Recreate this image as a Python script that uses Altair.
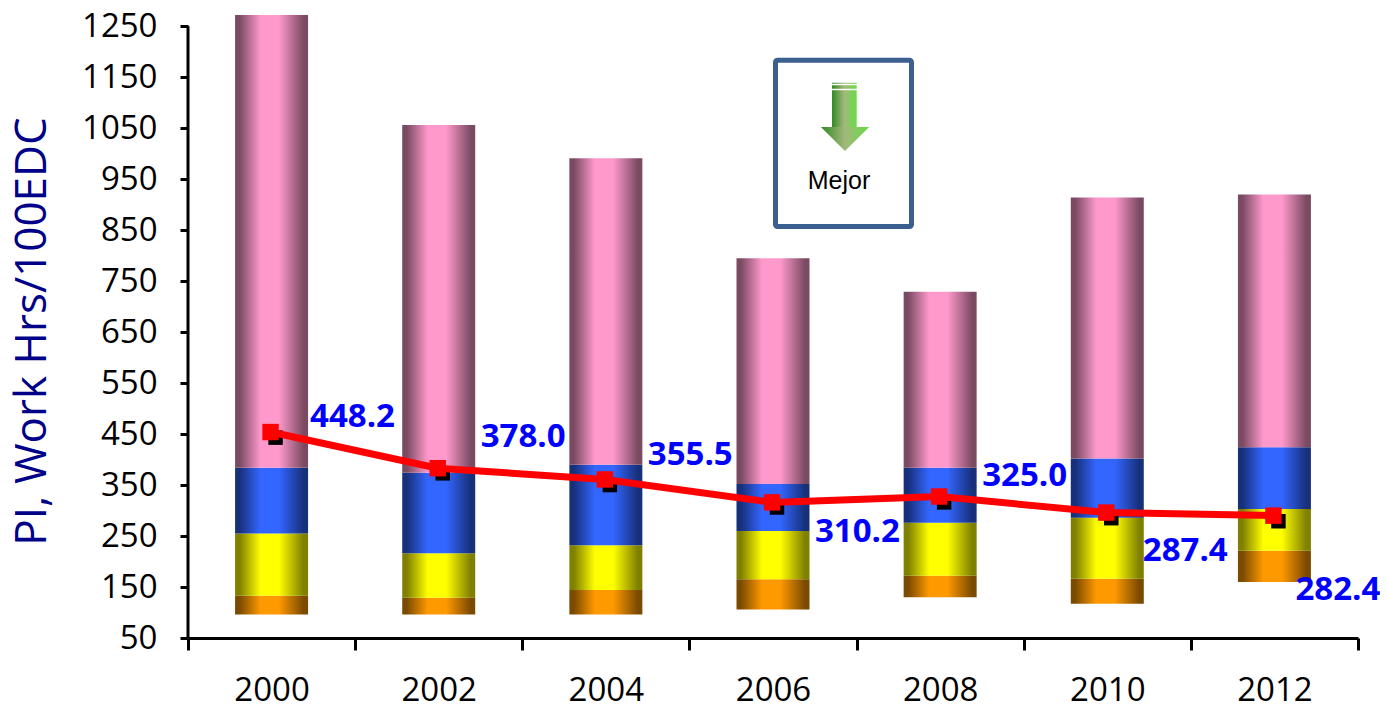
import altair as alt
import pandas as pd

years = ["2000", "2002", "2004", "2006", "2008", "2010", "2012"]
base = [96, 96, 96, 106, 130, 117, 160]
orange_top = [133, 129, 144, 165, 172, 166, 221]
yellow_top = [255, 216, 232, 260, 276, 286, 303]
blue_top = [384, 374, 390, 352, 384, 402, 424]
pink_top = [1272, 1056, 991, 795, 729, 914, 920]
red_line = [454, 383, 361, 316, 327.5, 296, 290]
black_pts = [443, 373, 350, 306, 316, 285, 279]
label_text = ["448.2", "378.0", "355.5", "310.2", "325.0", "287.4", "282.4"]
label_at = [484, 445, 408, 257, 367, 220, 145]
y_ticks = list(range(50, 1251, 100))

df = pd.DataFrame({
    "year": years, "base": base, "orange": orange_top, "yellow": yellow_top,
    "blue": blue_top, "pink": pink_top, "red": red_line, "black": black_pts,
    "label": label_text, "label_at": label_at,
})

FONT = "Open Sans"
x_enc = alt.X("year:N", scale=alt.Scale(domain=years, paddingInner=0, paddingOuter=0),
              axis=alt.Axis(title=None, tickBand="extent", labelAngle=0, labelFont=FONT,
                            labelFontSize=33, labelColor="#000", labelPadding=24, tickSize=12,
                            tickWidth=3, tickColor="#000", domainColor="#000", domainWidth=3,
                            grid=False))
y_scale = alt.Scale(domain=[50, 1272], nice=False, zero=False)
y_axis = alt.Axis(title="PI, Work Hrs/100EDC", values=y_ticks, format="d", grid=False, labelFont=FONT,
                  labelFontSize=33, labelColor="#000", labelPadding=23, tickSize=8,
                  tickWidth=3, tickColor="#000", domain=False,
                  titleFont=FONT, titleFontSize=44, titleFontWeight="normal", titleColor="#000088",
                  titleX=-156, titleY=316, titleBaseline="middle", titleAngle=270)


def grad(edge, mid):
    return alt.LinearGradient(gradient="linear", x1=0, x2=1, y1=0, y2=0, stops=[
        alt.GradientStop(offset=0, color=edge), alt.GradientStop(offset=0.06, color=edge),
        alt.GradientStop(offset=0.35, color=mid), alt.GradientStop(offset=0.6, color=mid),
        alt.GradientStop(offset=0.94, color=edge), alt.GradientStop(offset=1, color=edge)])


def segment(lo, hi, edge, mid):
    return alt.Chart(df).mark_bar(size=73, color=grad(edge, mid)).encode(
        x=x_enc,
        y=alt.Y(f"{lo}:Q", scale=y_scale, axis=y_axis),
        y2=alt.Y2(f"{hi}:Q"),
    )


bars = [
    segment("base", "orange", "#7a4a00", "#ff9900"),
    segment("orange", "yellow", "#7f7f00", "#ffff00"),
    segment("yellow", "blue", "#17307a", "#3366ff"),
    segment("blue", "pink", "#7a4a62", "#ff99cc"),
]

yq = lambda f: alt.Y(f"{f}:Q", scale=y_scale, axis=y_axis)
black = alt.Chart(df).mark_point(shape="square", filled=True, size=210, color="#000", opacity=1,
                                 xOffset=4).encode(x=x_enc, y=yq("black"))
line = alt.Chart(df).mark_line(color="#ff0000", strokeWidth=7, xOffset=-1).encode(x=x_enc, y=yq("red"))
red = alt.Chart(df).mark_point(shape="square", filled=True, size=270, color="#ff0000", opacity=1,
                               xOffset=-1).encode(x=x_enc, y=yq("red"))


def labels(sel, dx):
    return alt.Chart(df[df.label.isin(sel)]).mark_text(
        font=FONT, fontWeight="bold", fontSize=33, color="#0000ff", align="left",
        baseline="middle", dx=dx).encode(x=x_enc, y=yq("label_at"), text="label:N")


texts = [labels(label_text[:1], 38.5), labels(label_text[1:5], 42),
         labels(label_text[5:6], 35.5), labels(label_text[6:], 21)]

anno = pd.DataFrame({"t": ["Mejor"]})
y_line = alt.Chart(anno).mark_rule(color="#000", strokeWidth=3).encode(
    x=alt.value(0),
    y=alt.Y(datum=y_ticks[0], scale=y_scale, axis=y_axis),
    y2=alt.Y2(datum=y_ticks[-1]))
box = alt.Chart(anno).mark_rect(fill="#ffffff", stroke="#3b5f8f", strokeWidth=5, cornerRadius=2).encode(
    x=alt.value(587.5), x2=alt.value(723.5), y=alt.value(45.3), y2=alt.value(211.5))
arrow_grad = alt.LinearGradient(gradient="linear", x1=0, x2=1, y1=0, y2=0, stops=[
    alt.GradientStop(offset=0, color="#2f8a22"), alt.GradientStop(offset=0.5, color="#a3b87c"),
    alt.GradientStop(offset=1, color="#66dd44")])
shaft = alt.Chart(anno).mark_rect(fill=arrow_grad).encode(
    x=alt.value(644), x2=alt.value(668.7), y=alt.value(67.7), y2=alt.value(112))
head = alt.Chart(anno).mark_point(
    shape="M-1,-.5 L1,-.5 L0,.5 Z", filled=True, fill=arrow_grad, opacity=1, size=2330,
    strokeWidth=0).encode(x=alt.value(657), y=alt.value(124))
stripe1 = alt.Chart(anno).mark_rule(color="#fff", strokeWidth=1.5).encode(
    x=alt.value(643), x2=alt.value(670), y=alt.value(69.5))
stripe2 = alt.Chart(anno).mark_rule(color="#fff", strokeWidth=1.5).encode(
    x=alt.value(643), x2=alt.value(670), y=alt.value(74.5))
mejor = alt.Chart(anno).mark_text(font="Liberation Sans", fontSize=25, color="#000",
                                  align="center", baseline="middle").encode(
    x=alt.value(651), y=alt.value(165.5), text="t:N")

chart = alt.layer(*bars, y_line, black, line, red, *texts, box, shaft, head, stripe1, stripe2, mejor).resolve_scale(
    x="shared", y="shared"
).properties(
    width=1170, height=623,
    autosize=alt.AutoSizeParams(type="none"),
    padding={"left": 180, "top": 7, "right": 22, "bottom": 63},
).configure_view(stroke=None).configure_axis(labelOverlap=False)

chart.save("out.html", embed_options={"renderer": "svg", "actions": False})
